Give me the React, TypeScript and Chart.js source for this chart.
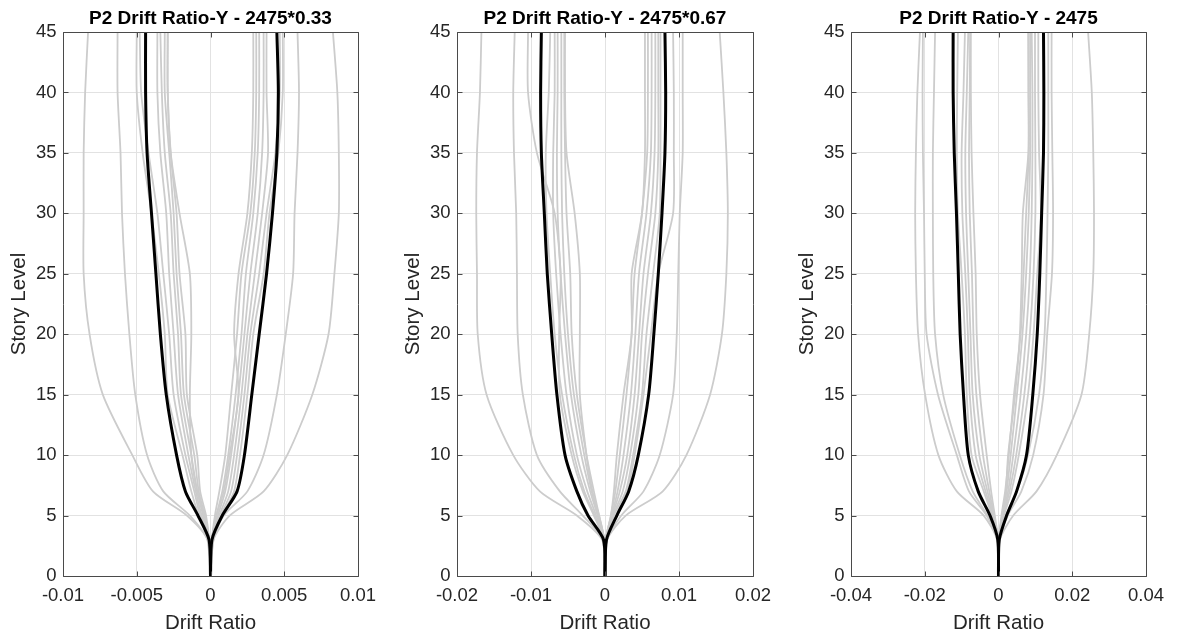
import React, { useEffect, useRef } from "react";
import { Chart, registerables } from "chart.js";

Chart.register(...registerables);

// Story levels at which drift ratios were read
const levels = [0, 3, 5, 7, 10, 15, 20, 25, 30, 35, 40, 45];
const yTicks = [0, 5, 10, 15, 20, 25, 30, 35, 40, 45];

const xTicksA = [-0.01, -0.005, 0, 0.005, 0.01];
const xTicksB = [-0.02, -0.01, 0, 0.01, 0.02];
const xTicksC = [-0.04, -0.02, 0, 0.02, 0.04];

const titleA = "P2 Drift Ratio-Y - 2475*0.33";
const titleB = "P2 Drift Ratio-Y - 2475*0.67";
const titleC = "P2 Drift Ratio-Y - 2475";
const xLabel = "Drift Ratio";
const yLabel = "Story Level";

// ---------- Panel A: 2475*0.33 ----------
const grayNegA = [
  [0, -0.0002, -0.0016, -0.0039, -0.0053, -0.0073, -0.0082, -0.0086, -0.0086, -0.0086, -0.0085, -0.0083],
  [0, -0.0002, -0.0014, -0.0032, -0.0043, -0.0051, -0.0055, -0.0058, -0.006, -0.0061, -0.0063, -0.0063],
  [0, -0.0001, -0.0004, -0.0009, -0.0013, -0.0014, -0.0013, -0.0014, -0.0021, -0.0027, -0.0029, -0.0029],
  [0, -0.0002, -0.0008, -0.0013, -0.0019, -0.0029, -0.0031, -0.0035, -0.004, -0.0046, -0.005, -0.005],
  [0, -0.0001, -0.0007, -0.0011, -0.0017, -0.0025, -0.0028, -0.0032, -0.0036, -0.0042, -0.0047, -0.0048],
  [0, -0.0001, -0.0006, -0.001, -0.0015, -0.0022, -0.0025, -0.0028, -0.003, -0.0034, -0.0036, -0.0036],
  [0, -0.0001, -0.0005, -0.0009, -0.0013, -0.002, -0.0022, -0.0025, -0.0027, -0.0031, -0.0033, -0.0034],
  [0, -0.0001, -0.0004, -0.0008, -0.0011, -0.0018, -0.002, -0.0023, -0.0025, -0.0028, -0.0031, -0.0031],
  [0, -0.0001, -0.0003, -0.0007, -0.0009, -0.0016, -0.0017, -0.0021, -0.0023, -0.0027, -0.0029, -0.0029],
];
const grayPosA = [
  [0, 0.0002, 0.0013, 0.0036, 0.0052, 0.0069, 0.008, 0.0084, 0.0087, 0.0087, 0.0086, 0.0083],
  [0, 0.0002, 0.0009, 0.0025, 0.0036, 0.0045, 0.0051, 0.0056, 0.0057, 0.0059, 0.006, 0.0059],
  [0, 0.0001, 0.0004, 0.0009, 0.0013, 0.0019, 0.0016, 0.0019, 0.0025, 0.0028, 0.0029, 0.0029],
  [0, 0.0002, 0.0008, 0.0016, 0.002, 0.0025, 0.0029, 0.0036, 0.004, 0.0046, 0.0049, 0.0049],
  [0, 0.0001, 0.0007, 0.0014, 0.0018, 0.0023, 0.0027, 0.0033, 0.0038, 0.0044, 0.0047, 0.0047],
  [0, 0.0001, 0.0006, 0.0012, 0.0016, 0.0021, 0.0025, 0.003, 0.0035, 0.0039, 0.0038, 0.0038],
  [0, 0.0001, 0.0005, 0.001, 0.0014, 0.0019, 0.0023, 0.0027, 0.0032, 0.0035, 0.0036, 0.0036],
  [0, 0.0001, 0.0004, 0.0008, 0.0012, 0.0017, 0.0021, 0.0024, 0.0029, 0.0032, 0.0033, 0.0033],
  [0, 0.0001, 0.0003, 0.0006, 0.001, 0.0014, 0.0018, 0.0021, 0.0027, 0.003, 0.0031, 0.0031],
];
const meanNegA = [0, -0.0001, -0.00085, -0.0017, -0.0023, -0.003, -0.0034, -0.0037, -0.004, -0.0043, -0.0044, -0.0044];
const meanPosA = [0, 0.0001, 0.0008, 0.0018, 0.0023, 0.0028, 0.0033, 0.0038, 0.0042, 0.0045, 0.0046, 0.0045];

// ---------- Panel B: 2475*0.67 ----------
const grayNegB = [
  [0, -0.0004, -0.0038, -0.0088, -0.0124, -0.016, -0.0172, -0.0173, -0.0174, -0.0173, -0.0169, -0.0167],
  [0, -0.0003, -0.003, -0.0061, -0.0092, -0.0111, -0.0118, -0.0119, -0.012, -0.0123, -0.0124, -0.0122],
  [0, -0.0001, -0.0008, -0.0017, -0.0025, -0.0034, -0.0034, -0.0034, -0.0041, -0.0052, -0.0054, -0.0054],
  [0, -0.0002, -0.0015, -0.003, -0.0045, -0.0061, -0.0062, -0.006, -0.0068, -0.0092, -0.0104, -0.0104],
  [0, -0.0002, -0.0014, -0.0028, -0.0042, -0.0058, -0.0068, -0.0074, -0.0079, -0.008, -0.0076, -0.0074],
  [0, -0.0002, -0.0012, -0.0024, -0.0038, -0.0052, -0.006, -0.0066, -0.007, -0.007, -0.0068, -0.0068],
  [0, -0.0001, -0.001, -0.002, -0.0032, -0.0046, -0.0054, -0.006, -0.0064, -0.0065, -0.0064, -0.0064],
  [0, -0.0001, -0.0009, -0.0018, -0.0028, -0.0042, -0.005, -0.0055, -0.0058, -0.0059, -0.0059, -0.0059],
  [0, -0.0001, -0.0008, -0.0015, -0.0025, -0.0038, -0.0045, -0.0047, -0.0052, -0.0054, -0.0055, -0.0055],
];
const grayPosB = [
  [0, 0.0003, 0.0028, 0.0078, 0.011, 0.0142, 0.0158, 0.0164, 0.0166, 0.0164, 0.016, 0.0155],
  [0, 0.0003, 0.0022, 0.0052, 0.0074, 0.0092, 0.0097, 0.0099, 0.0101, 0.0105, 0.0105, 0.0105],
  [0, 0.0002, 0.0015, 0.003, 0.004, 0.0052, 0.0062, 0.0072, 0.0092, 0.0093, 0.0093, 0.0092],
  [0, 0.0001, 0.0008, 0.0012, 0.0016, 0.0025, 0.0036, 0.0036, 0.005, 0.0054, 0.0054, 0.0054],
  [0, 0.0002, 0.0012, 0.0028, 0.0038, 0.005, 0.0056, 0.0065, 0.0074, 0.0075, 0.0075, 0.0075],
  [0, 0.0002, 0.0011, 0.0024, 0.0034, 0.0045, 0.005, 0.0058, 0.0068, 0.0072, 0.0072, 0.0072],
  [0, 0.0001, 0.001, 0.002, 0.003, 0.004, 0.0046, 0.0052, 0.0062, 0.0067, 0.0068, 0.0068],
  [0, 0.0001, 0.0009, 0.0017, 0.0025, 0.0035, 0.0041, 0.0046, 0.0056, 0.0062, 0.0063, 0.0063],
  [0, 0.0001, 0.0008, 0.0014, 0.002, 0.0029, 0.0036, 0.004, 0.005, 0.0057, 0.0058, 0.0058],
];
const meanNegB = [0, -0.0002, -0.0023, -0.0038, -0.0054, -0.0065, -0.0072, -0.0078, -0.0082, -0.0086, -0.0087, -0.0086];
const meanPosB = [0, 0.0002, 0.0016, 0.0032, 0.0045, 0.0059, 0.0066, 0.0072, 0.0077, 0.0081, 0.0082, 0.0081];

// ---------- Panel C: 2475 ----------
const grayNegC = [
  [0, -0.0004, -0.004, -0.0113, -0.0163, -0.0199, -0.0218, -0.0224, -0.0226, -0.0224, -0.022, -0.0213],
  [0, -0.0003, -0.0032, -0.008, -0.0113, -0.0164, -0.0195, -0.02, -0.0202, -0.0205, -0.0206, -0.0205],
  [0, -0.0003, -0.003, -0.007, -0.0105, -0.015, -0.0172, -0.0177, -0.0178, -0.0178, -0.0175, -0.0172],
  [0, -0.0002, -0.0018, -0.004, -0.0073, -0.0086, -0.0091, -0.01, -0.011, -0.0113, -0.0112, -0.011],
  [0, -0.0002, -0.0016, -0.0035, -0.0062, -0.0078, -0.0083, -0.009, -0.0098, -0.01, -0.0095, -0.0091],
  [0, -0.0002, -0.0014, -0.003, -0.0052, -0.007, -0.0076, -0.0082, -0.0088, -0.009, -0.0086, -0.0082],
  [0, -0.0001, -0.0012, -0.0025, -0.0042, -0.006, -0.0068, -0.0072, -0.0078, -0.008, -0.0078, -0.0077],
  [0, -0.0001, -0.001, -0.002, -0.0032, -0.005, -0.0059, -0.0062, -0.0068, -0.0073, -0.0075, -0.0075],
];
const grayPosC = [
  [0, 0.0004, 0.004, 0.0103, 0.0158, 0.0225, 0.0246, 0.0257, 0.0259, 0.0257, 0.0253, 0.0243],
  [0, 0.0003, 0.0025, 0.0062, 0.0094, 0.0122, 0.0132, 0.0145, 0.0148, 0.0146, 0.0144, 0.0144],
  [0, 0.0002, 0.002, 0.005, 0.008, 0.011, 0.0125, 0.013, 0.0133, 0.0135, 0.0135, 0.0135],
  [0, 0.0001, 0.001, 0.002, 0.0026, 0.0045, 0.0058, 0.0063, 0.0066, 0.0081, 0.0081, 0.0081],
  [0, 0.0002, 0.0015, 0.0035, 0.0055, 0.008, 0.0095, 0.0105, 0.0115, 0.011, 0.0108, 0.0108],
  [0, 0.0002, 0.0013, 0.003, 0.0048, 0.007, 0.0085, 0.0095, 0.01, 0.01, 0.0099, 0.0099],
  [0, 0.0001, 0.0012, 0.0026, 0.004, 0.006, 0.0075, 0.0085, 0.009, 0.0092, 0.0092, 0.009],
  [0, 0.0001, 0.001, 0.0022, 0.0033, 0.005, 0.0065, 0.0075, 0.0082, 0.0086, 0.0086, 0.0086],
  [0, 0.0001, 0.0008, 0.0018, 0.0028, 0.0042, 0.006, 0.0068, 0.0075, 0.0082, 0.0082, 0.0081],
];
const meanNegC = [0, -0.0002, -0.0023, -0.0055, -0.0082, -0.0095, -0.0104, -0.0109, -0.0114, -0.012, -0.0123, -0.0123];
const meanPosC = [0, 0.0002, 0.0022, 0.0049, 0.0076, 0.0093, 0.0105, 0.0112, 0.0117, 0.0122, 0.0123, 0.0122];

const FONT = "'Liberation Sans', Arial, Helvetica, sans-serif";
const GRAY = "#cccccc";
const AXIS = "#262626";
const BOX = "#4a4a4a";

const boxPlugin = {
  id: "matlabBox",
  afterDatasetsDraw(chart: any) {
    const { ctx, chartArea: a, scales } = chart;
    const al = (p: number) => Math.round(p) + 0.5;
    const L = al(a.left), R = al(a.right), T = al(a.top), B = al(a.bottom);
    ctx.save();
    ctx.strokeStyle = BOX;
    ctx.lineWidth = 1;
    ctx.beginPath();
    ctx.moveTo(L, T); ctx.lineTo(R, T); ctx.lineTo(R, B); ctx.lineTo(L, B); ctx.closePath();
    const tl = 5;
    scales.x.ticks.forEach((t: any) => {
      const px = al(scales.x.getPixelForValue(t.value));
      ctx.moveTo(px, B); ctx.lineTo(px, B - tl);
      ctx.moveTo(px, T); ctx.lineTo(px, T + tl);
    });
    scales.y.ticks.forEach((t: any) => {
      const py = al(scales.y.getPixelForValue(t.value));
      ctx.moveTo(L, py); ctx.lineTo(L + tl, py);
      ctx.moveTo(R, py); ctx.lineTo(R - tl, py);
    });
    ctx.stroke();
    ctx.restore();
  },
};

// Title centred over the plot box (as MATLAB does)
const axesTitlePlugin = {
  id: "axesTitle",
  afterDraw(chart: any) {
    const text = chart.options.plugins.axesTitle?.text;
    if (!text) return;
    const { ctx, chartArea: a } = chart;
    ctx.save();
    ctx.font = `bold 19px ${FONT}`;
    ctx.fillStyle = "#000000";
    ctx.textAlign = "center";
    ctx.textBaseline = "middle";
    ctx.fillText(text, (a.left + a.right) / 2, 18.4);
    ctx.restore();
  },
};

type PanelProps = {
  left: number;
  plotWidth: number;
  title: string;
  xTicks: number[];
  grayNeg: number[][];
  grayPos: number[][];
  meanNeg: number[];
  meanPos: number[];
};

const Y_AXIS_W = 63;
const RIGHT_PAD = 32;
const TOP_PAD = 32;
const H = 640;

function toPoints(vals: number[]) {
  return levels.map((lv, i) => ({ x: vals[i], y: lv }));
}

function Panel(props: PanelProps) {
  const ref = useRef<HTMLCanvasElement | null>(null);
  const width = Y_AXIS_W + props.plotWidth + RIGHT_PAD;
  useEffect(() => {
    if (!ref.current) return;
    const lineBase = {
      pointRadius: 0,
      pointHoverRadius: 0,
      tension: 0.25,
      borderJoinStyle: "round" as const,
      borderCapStyle: "round" as const,
      fill: false,
    };
    const datasets: any[] = [];
    [props.meanNeg, props.meanPos].forEach((m) =>
      datasets.push({ ...lineBase, data: toPoints(m), borderColor: "#000000", borderWidth: 3 })
    );
    [...props.grayNeg, ...props.grayPos].forEach((g) =>
      datasets.push({ ...lineBase, data: toPoints(g), borderColor: GRAY, borderWidth: 1.8 })
    );
    const xt = props.xTicks;
    const chart = new Chart(ref.current, {
      type: "line",
      data: { datasets },
      plugins: [boxPlugin, axesTitlePlugin],
      options: {
        animation: false,
        responsive: false,
        devicePixelRatio: 1,
        indexAxis: "y",
        layout: { padding: { left: 0, right: RIGHT_PAD, top: TOP_PAD, bottom: 0 } },
        plugins: {
          legend: { display: false },
          tooltip: { enabled: false },
          title: { display: false },
          axesTitle: { text: props.title },
        },
        scales: {
          x: {
            type: "linear",
            min: xt[0],
            max: xt[xt.length - 1],
            afterBuildTicks: (s: any) => {
              s.ticks = xt.map((v) => ({ value: v }));
            },
            afterFit: (s: any) => {
              s.height = 64;
            },
            grid: { color: "#e2e2e2", lineWidth: 1, drawTicks: false },
            border: { display: false },
            ticks: {
              color: AXIS,
              font: { family: FONT, size: 18.5 },
              padding: 9,
              maxRotation: 0,
              autoSkip: false,
              callback: (v: any) => String(v),
            },
            title: {
              display: true,
              text: xLabel,
              color: AXIS,
              font: { family: FONT, size: 20.5 },
              padding: { top: 4, bottom: 4 },
            },
          },
          y: {
            type: "linear",
            min: 0,
            max: 45,
            afterBuildTicks: (s: any) => {
              s.ticks = yTicks.map((v) => ({ value: v }));
            },
            afterFit: (s: any) => {
              s.width = Y_AXIS_W;
            },
            grid: { color: "#e2e2e2", lineWidth: 1, drawTicks: false },
            border: { display: false },
            ticks: {
              color: AXIS,
              font: { family: FONT, size: 18.5 },
              padding: 6.5,
              autoSkip: false,
              callback: (v: any) => String(v),
            },
            title: {
              display: true,
              text: yLabel,
              color: AXIS,
              font: { family: FONT, size: 20.5 },
              padding: { top: 7, bottom: 7 },
            },
          },
        },
      } as any,
    });
    return () => chart.destroy();
  }, []);
  return (
    <canvas
      ref={ref}
      width={width}
      height={H}
      style={{ position: "absolute", left: props.left - Y_AXIS_W, top: 0, width, height: H }}
    />
  );
}

export default function App() {
  return (
    <div
      style={{
        position: "absolute",
        left: 0,
        top: 0,
        width: 1178,
        height: 640,
        background: "#ffffff",
        overflow: "hidden",
      }}
    >
      <Panel left={63} plotWidth={295} title={titleA} xTicks={xTicksA}
        grayNeg={grayNegA} grayPos={grayPosA} meanNeg={meanNegA} meanPos={meanPosA} />
      <Panel left={457} plotWidth={296} title={titleB} xTicks={xTicksB}
        grayNeg={grayNegB} grayPos={grayPosB} meanNeg={meanNegB} meanPos={meanPosB} />
      <Panel left={851} plotWidth={295} title={titleC} xTicks={xTicksC}
        grayNeg={grayNegC} grayPos={grayPosC} meanNeg={meanNegC} meanPos={meanPosC} />
    </div>
  );
}
